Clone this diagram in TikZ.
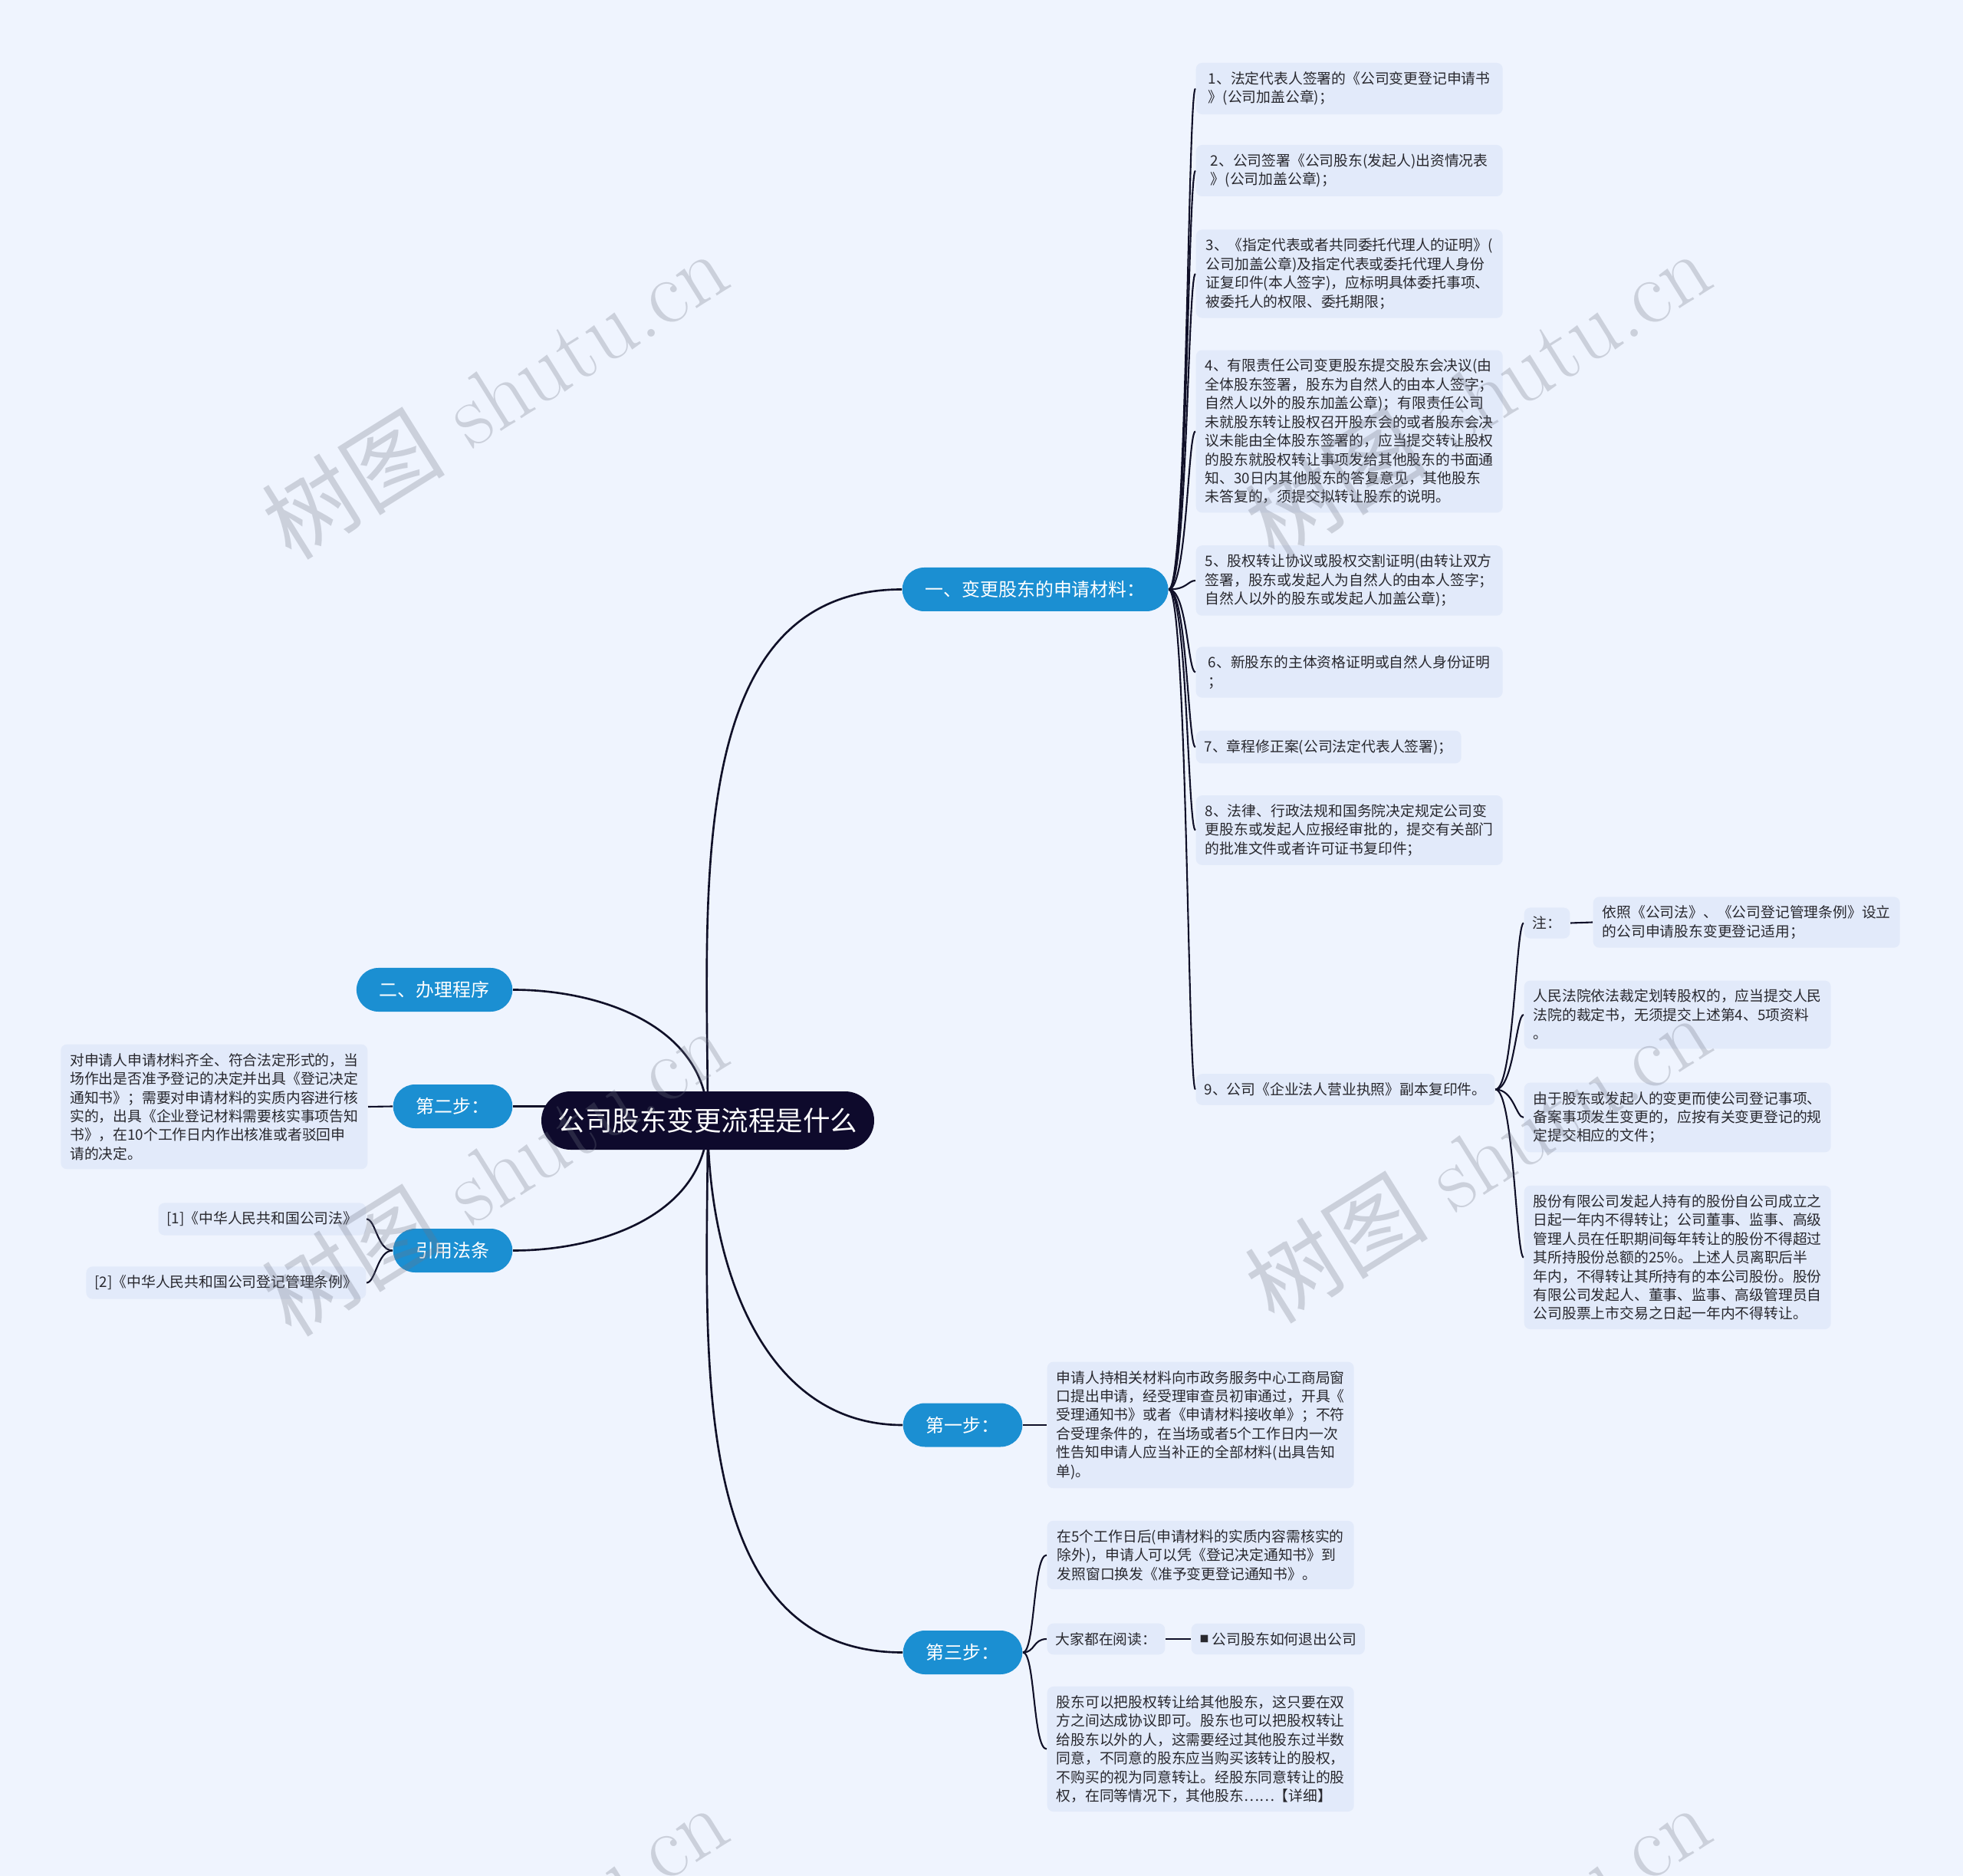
\documentclass[tikz,border=0pt]{standalone}
\usepackage{fontspec}
\newfontfamily\cjk{Noto Sans CJK SC}
\usetikzlibrary{positioning, backgrounds}
\definecolor{pagebg}{RGB}{239,244,254}
\definecolor{leafbg}{RGB}{226,234,250}
\definecolor{branchblue}{RGB}{27,143,210}
\definecolor{rootnavy}{RGB}{14,10,44}
\definecolor{linkcol}{RGB}{16,16,40}
\definecolor{leaftext}{RGB}{40,40,46}
\definecolor{markgray}{RGB}{110,115,130}

\tikzset{
  topic/.style={fill=rootnavy, text=white, rounded corners=0.38cm, minimum height=0.76cm,
    minimum width=4.34cm, inner xsep=0.2cm, font=\cjk\fontsize{10.1}{12}\selectfont},
  branch/.style={fill=branchblue, text=white, rounded corners=0.285cm, minimum height=0.57cm,
    inner xsep=0.3cm, font=\cjk\fontsize{6.8}{8}\selectfont},
  leaf/.style={fill=leafbg, text=leaftext, rounded corners=0.08cm, inner xsep=0.11cm,
    inner ysep=0.115cm, align=left, font=\cjk\fontsize{5.35}{6.95}\selectfont},
  wideleaf/.style={leaf, minimum width=4cm},
  link/.style={draw=linkcol, line width=0.6pt},
  mainlink/.style={draw=linkcol, line width=0.75pt},
  watermark/.style={text=markgray, opacity=0.28, rotate=32, font=\fontsize{34}{40}\selectfont},
}

\begin{document}
\begin{tikzpicture}
    \useasboundingbox (0,0) rectangle (25.6,-24.46);

    % Centre and main branches
    \node[topic] (root) at (9.23,-14.61) {公司股东变更流程是什么};
    \node[branch, anchor=west] (apply) at (11.76,-7.685) {一、变更股东的申请材料：};
    \node[branch, anchor=east] (proc) at (6.69,-12.905) {二、办理程序};
    \node[branch, anchor=east] (step2) at (6.69,-14.425) {第二步：};
    \node[branch, anchor=east] (cite) at (6.69,-16.305) {引用法条};
    \node[branch, anchor=west] (step1) at (11.77,-18.58) {第一步：};
    \node[branch, anchor=west] (step3) at (11.77,-21.545) {第三步：};

    % Materials list
    \node[wideleaf, anchor=west] (m1) at (15.59,-1.155) {1、法定代表人签署的《公司变更登记申请书\\》(公司加盖公章)；};
    \node[wideleaf, anchor=west] (m2) at (15.59,-2.225) {2、公司签署《公司股东(发起人)出资情况表\\》(公司加盖公章)；};
    \node[wideleaf, anchor=west] (m3) at (15.59,-3.57) {3、《指定代表或者共同委托代理人的证明》(\\公司加盖公章)及指定代表或委托代理人身份\\证复印件(本人签字)，应标明具体委托事项、\\被委托人的权限、委托期限；};
    \node[wideleaf, anchor=west] (m4) at (15.59,-5.625) {4、有限责任公司变更股东提交股东会决议(由\\全体股东签署，股东为自然人的由本人签字；\\自然人以外的股东加盖公章)；有限责任公司\\未就股东转让股权召开股东会的或者股东会决\\议未能由全体股东签署的，应当提交转让股权\\的股东就股权转让事项发给其他股东的书面通\\知、30日内其他股东的答复意见，其他股东\\未答复的，须提交拟转让股东的说明。};
    \node[wideleaf, anchor=west] (m5) at (15.59,-7.57) {5、股权转让协议或股权交割证明(由转让双方\\签署，股东或发起人为自然人的由本人签字；\\自然人以外的股东或发起人加盖公章)；};
    \node[wideleaf, anchor=west] (m6) at (15.59,-8.765) {6、新股东的主体资格证明或自然人身份证明\\；};
    \node[leaf, anchor=west] (m7) at (15.59,-9.74) {7、章程修正案(公司法定代表人签署)；};
    \node[wideleaf, anchor=west] (m8) at (15.59,-10.825) {8、法律、行政法规和国务院决定规定公司变\\更股东或发起人应报经审批的，提交有关部门\\的批准文件或者许可证书复印件；};
    \node[leaf, anchor=west] (m9) at (15.59,-14.205) {9、公司《企业法人营业执照》副本复印件。};

    % Notes under item 9
    \node[leaf, anchor=west] (n1) at (19.87,-12.035) {注：};
    \node[wideleaf, anchor=west] (n1a) at (20.77,-12.025) {依照《公司法》、《公司登记管理条例》设立\\的公司申请股东变更登记适用；};
    \node[wideleaf, anchor=west] (n2) at (19.87,-13.23) {人民法院依法裁定划转股权的，应当提交人民\\法院的裁定书，无须提交上述第4、5项资料\\。};
    \node[wideleaf, anchor=west] (n3) at (19.87,-14.57) {由于股东或发起人的变更而使公司登记事项、\\备案事项发生变更的，应按有关变更登记的规\\定提交相应的文件；};
    \node[wideleaf, anchor=west] (n4) at (19.87,-16.395) {股份有限公司发起人持有的股份自公司成立之\\日起一年内不得转让；公司董事、监事、高级\\管理人员在任职期间每年转让的股份不得超过\\其所持股份总额的25\%。上述人员离职后半\\年内，不得转让其所持有的本公司股份。股份\\有限公司发起人、董事、监事、高级管理员自\\公司股票上市交易之日起一年内不得转让。};

    % Left side
    \node[wideleaf, anchor=east] (s2) at (4.80,-14.43) {对申请人申请材料齐全、符合法定形式的，当\\场作出是否准予登记的决定并出具《登记决定\\通知书》；需要对申请材料的实质内容进行核\\实的，出具《企业登记材料需要核实事项告知\\书》，在10个工作日内作出核准或者驳回申\\请的决定。};
    \node[leaf, anchor=east] (law1) at (4.78,-15.895) {[1]《中华人民共和国公司法》};
    \node[leaf, anchor=east] (law2) at (4.78,-16.725) {[2]《中华人民共和国公司登记管理条例》};

    % Steps one and three
    \node[wideleaf, anchor=west] (q1) at (13.65,-18.58) {申请人持相关材料向市政务服务中心工商局窗\\口提出申请，经受理审查员初审通过，开具《\\受理通知书》或者《申请材料接收单》；不符\\合受理条件的，在当场或者5个工作日内一次\\性告知申请人应当补正的全部材料(出具告知\\单)。};
    \node[wideleaf, anchor=west] (p1) at (13.65,-20.275) {在5个工作日后(申请材料的实质内容需核实的\\除外)，申请人可以凭《登记决定通知书》到\\发照窗口换发《准予变更登记通知书》。};
    \node[leaf, anchor=west] (p2) at (13.65,-21.37) {大家都在阅读：};
    \node[leaf, anchor=west] (p2a) at (15.53,-21.37) {\raisebox{0.3ex}{\fontsize{3.4}{4}\selectfont ■} 公司股东如何退出公司};
    \node[wideleaf, anchor=west] (p3) at (13.65,-22.805) {股东可以把股权转让给其他股东，这只要在双\\方之间达成协议即可。股东也可以把股权转让\\给股东以外的人，这需要经过其他股东过半数\\同意，不同意的股东应当购买该转让的股权，\\不购买的视为同意转让。经股东同意转让的股\\权，在同等情况下，其他股东……【详细】};

    % Connectors behind the boxes
    \begin{pgfonlayer}{background}
        \fill[pagebg] (0,0) rectangle (25.6,-24.46);
        \draw[mainlink] (root.center) to[out=90,in=180] (apply.west);
        \draw[mainlink] (root.center) to[out=90,in=0] (proc.east);
        \draw[mainlink] (step2.east) -- (step2.east -| root.center);
        \draw[mainlink] (root.center) to[out=-90,in=0] (cite.east);
        \draw[mainlink] (root.center) to[out=-90,in=180] (step1.west);
        \draw[mainlink] (root.center) to[out=-90,in=180] (step3.west);

        \foreach \i in {1,...,9}
            \draw[link] (apply.east) .. controls +(0.24,0) and +(-0.1,0) .. (m\i.west);
        \foreach \n in {n1,n2,n3,n4}
            \draw[link] (m9.east) .. controls +(0.24,0) and +(-0.1,0) .. (\n.west);
        \draw[link] (n1.east) -- (n1a.west);
        \draw[link] (s2.east) -- (step2.west);
        \foreach \n in {law1,law2}
            \draw[link] (cite.west) .. controls +(-0.2,0) and +(0.12,0) .. (\n.east);
        \draw[link] (step1.east) -- (q1.west);
        \foreach \n in {p1,p2,p3}
            \draw[link] (step3.east) .. controls +(0.16,0) and +(-0.18,0) .. (\n.west);
        \draw[link] (p2.east) -- (p2a.west);
    \end{pgfonlayer}

    % Watermarks
    \foreach \x/\y [count=\k] in {6.45/-5.14, 19.27/-5.14, 6.45/-15.27, 19.27/-15.1, 6.45/-25.4, 19.27/-25.4}
        \node[watermark] (wm\k) at (\x,\y) {{\cjk 树图} shutu.cn};
\end{tikzpicture}
\end{document}
